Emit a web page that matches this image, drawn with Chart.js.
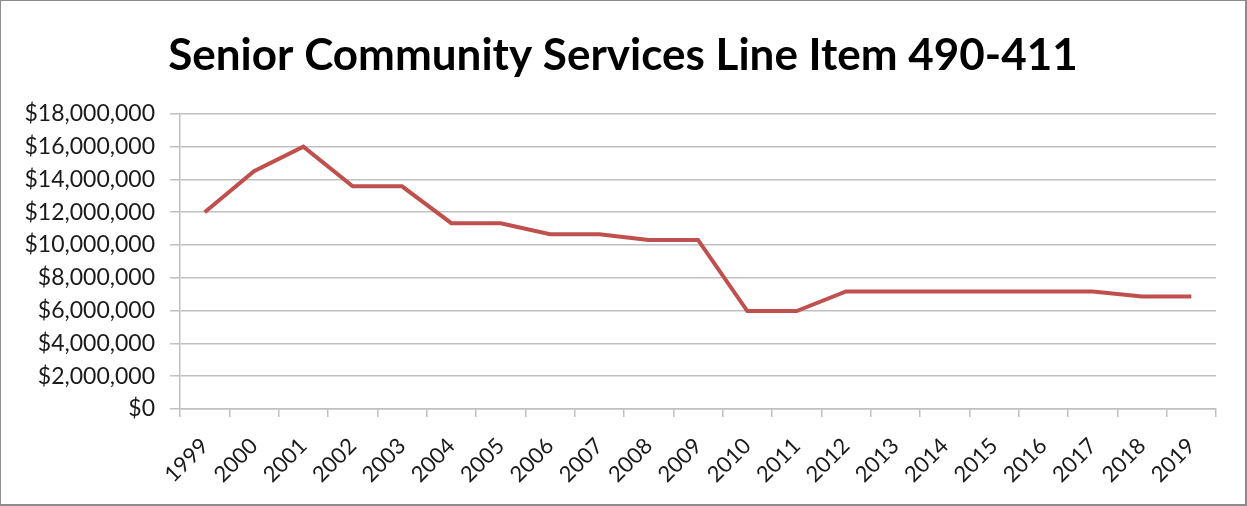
<!DOCTYPE html>
<html>
<head>
<meta charset="utf-8">
<script src="https://cdn.jsdelivr.net/npm/chart.js@4"></script>
<style>
  body { margin: 0; background: #fff; }
  #wrap { width: 1247px; height: 506px; box-sizing: border-box; border: 1px solid #8c8c8c; border-right: 2px solid #8c8c8c; border-bottom: 2px solid #8c8c8c; }
</style>
</head>
<body>
<div id="wrap"><canvas id="myChart"></canvas></div>
<script>
// values
const years = ['1999','2000','2001','2002','2003','2004','2005','2006','2007','2008','2009',
               '2010','2011','2012','2013','2014','2015','2016','2017','2018','2019'];
const funding = [12000000, 14500000, 16000000, 13580000, 13580000, 11330000, 11330000,
                 10660000, 10660000, 10310000, 10310000, 5970000, 5970000, 7170000,
                 7170000, 7170000, 7170000, 7170000, 7170000, 6860000, 6860000];
const chartTitle = 'Senior Community Services Line Item 490-411';

const gridGrey = '#c0c0c0';
const tickFont = { family: "Lato, sans-serif", size: 23 };

const ctx = document.getElementById('myChart').getContext('2d');
const myChart = new Chart(ctx, {
    type: 'line',
    data: {
        labels: years,
        datasets: [{
            label: 'Funding',
            data: funding,
            borderColor: '#c0504d',
            backgroundColor: '#c0504d',
            borderWidth: 4,
            pointRadius: 0,
            tension: 0
        }]
    },
    options: {
        responsive: true,
        maintainAspectRatio: false,
        animation: false,
        layout: { padding: 0 },
        plugins: {
            legend: { display: false },
            tooltip: { enabled: false },
            title: {
                display: true,
                text: chartTitle,
                color: '#000',
                font: { family: "Lato, sans-serif", size: 44, weight: 'bold', lineHeight: 1.2 },
                padding: { top: 28, bottom: 32 }
            }
        },
        scales: {
            x: {
                offset: true,
                grid: { drawOnChartArea: false, offset: true, color: gridGrey, lineWidth: 1.5, tickLength: 8 },
                border: { color: gridGrey, width: 1.5 },
                ticks: { color: '#1a1a1a', font: { family: "Lato, sans-serif", size: 22 }, minRotation: 45, maxRotation: 45, padding: 16 },
                afterFit: function(scale) { scale.height = 95; }
            },
            y: {
                min: 0,
                max: 18000000,
                grid: { color: gridGrey, lineWidth: 1.5, tickLength: 10 },
                border: { color: gridGrey, width: 1.5 },
                ticks: {
                    stepSize: 2000000,
                    color: '#1a1a1a',
                    font: tickFont,
                    padding: 15,
                    callback: function(v) { return '$' + v.toLocaleString('en-US'); }
                },
                afterFit: function(scale) { scale.width = 179; }
            },
            // empty right-hand axis, only keeps the blank margin on the right
            yRight: {
                position: 'right',
                grid: { display: false },
                border: { display: false },
                ticks: { display: false },
                afterFit: function(scale) { scale.width = 29; }
            }
        }
    }
});
</script>
</body>
</html>
